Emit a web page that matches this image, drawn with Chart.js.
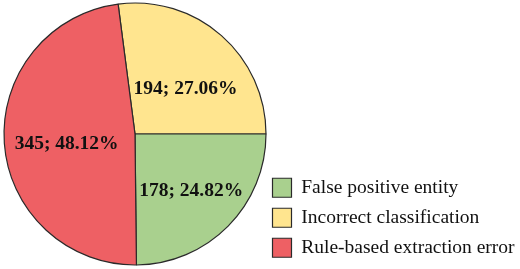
<!DOCTYPE html>
<html>
<head>
<meta charset="utf-8">
<script src="https://cdn.jsdelivr.net/npm/chart.js@4/dist/chart.umd.min.js"></script>
<style>
  html, body { margin: 0; padding: 0; background: #ffffff; }
  #wrap { width: 520px; height: 269px; position: relative; }
</style>
</head>
<body>
<div id="wrap"><canvas id="pie" width="520" height="269"></canvas></div>
<script>
// Slices in drawing order (clockwise, starting where the yellow slice begins).
const categories = ["Incorrect classification", "False positive entity", "Rule-based extraction error"];
const counts = [194, 178, 345];
const percentLabels = ["27.06%", "24.82%", "48.12%"];
// Legend lists the slices in this order.
const legendOrder = [1, 0, 2];

const sliceColors = ["#FFE58F", "#A9D08E", "#EE6064"];
const edgeColor = "#2a2a2a";
// Small nudges for the value labels (px), per slice.
const labelNudge = [{ dx: 3, dy: 9.5 }, { dx: 5, dy: 6 }, { dx: 3.5, dy: 4.5 }];

const total = counts.reduce((a, b) => a + b, 0);
// First slice ends exactly at 3 o'clock.
const startRotation = 90 - (360 * counts[0]) / total;

// Plugin drawing "count; percent" inside each slice.
const sliceLabels = {
  id: "sliceLabels",
  afterDatasetsDraw(chart) {
    const { ctx } = chart;
    const meta = chart.getDatasetMeta(0);
    ctx.save();
    ctx.font = "bold 19.5px 'Liberation Serif', 'Times New Roman', serif";
    ctx.fillStyle = "#111111";
    ctx.textAlign = "center";
    ctx.textBaseline = "middle";
    meta.data.forEach((arc, i) => {
      const { x, y, startAngle, endAngle, outerRadius } = arc.getProps(
        ["x", "y", "startAngle", "endAngle", "outerRadius"], true);
      const mid = (startAngle + endAngle) / 2;
      const r = outerRadius * 0.55;
      const px = x + Math.cos(mid) * r + labelNudge[i].dx;
      const py = y + Math.sin(mid) * r + labelNudge[i].dy;
      ctx.fillText(counts[i] + "; " + percentLabels[i], px, py);
    });
    ctx.restore();
  },
};

new Chart(document.getElementById("pie").getContext("2d"), {
  type: "pie",
  data: {
    labels: categories,
    datasets: [
      {
        data: counts,
        backgroundColor: sliceColors,
        borderColor: edgeColor,
        borderWidth: 1.2,
        clip: false,
      },
    ],
  },
  plugins: [sliceLabels],
  options: {
    responsive: false,
    animation: false,
    devicePixelRatio: 1,
    rotation: startRotation,
    radius: 131,
    layout: { padding: { left: 8, right: 4, top: 0, bottom: 1 } },
    plugins: {
      tooltip: { enabled: false },
      legend: {
        position: "right",
        align: "end",
        maxWidth: 254,
        labels: {
          boxWidth: 19,
          boxHeight: 19,
          padding: 10.5,
          color: "#111111",
          font: { family: "'Liberation Serif', 'Times New Roman', serif", size: 19.5 },
          sort: (a, b) => legendOrder.indexOf(a.index) - legendOrder.indexOf(b.index),
        },
      },
    },
  },
});
</script>
</body>
</html>
